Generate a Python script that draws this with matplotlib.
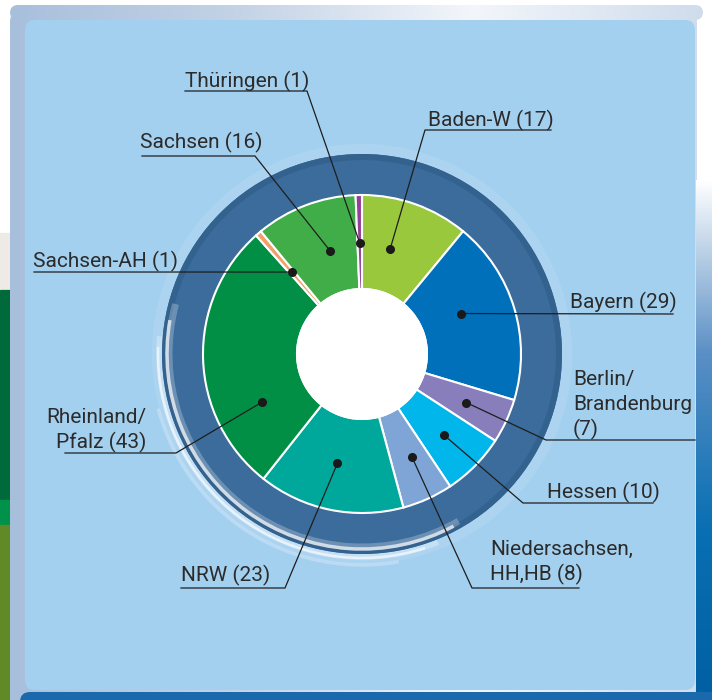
import numpy as np
import matplotlib.pyplot as plt
from matplotlib.patches import Circle, Wedge, FancyBboxPatch, Rectangle, Arc
from matplotlib.colors import LinearSegmentedColormap

W, H = 712, 700

# data
labels = ["Baden-W (17)", "Bayern (29)", "Berlin/\nBrandenburg\n(7)", "Hessen (10)",
          "Niedersachsen,\nHH,HB (8)", "NRW (23)", "Rheinland/\nPfalz (43)",
          "Sachsen-AH (1)", "Sachsen (16)", "Thüringen (1)"]
values = [17, 29, 7, 10, 8, 23, 43, 1, 16, 1]
colors = ["#9ac83c", "#0070ba", "#877ebb", "#00b6eb", "#7ea5d5",
          "#00a89c", "#008f45", "#f29f6c", "#41ad49", "#943f97"]

# label placement in picture pixels (y from top):
# text x, first baseline, alignment, leader points after the dot, dot spot in wedge, dot radius
label_layout = [
    (428, 126, 'left', [(425, 130), (551, 130)], 0.38, 109),
    (570, 308, 'left', [(673, 314)], 0.42, 107),
    (573, 385, 'left', [(546, 440), (695, 440)], 0.5, 115),
    (547, 498, 'left', [(523, 503), (653, 503)], 0.5, 115),
    (490, 555, 'left', [(472, 588), (579, 588)], 0.42, 114),
    (181, 581, 'left', [(285, 588), (181, 588)], 0.52, 112),
    (146, 423, 'right', [(176, 453), (65, 453)], 0.26, 111),
    (33, 267, 'left', [(34, 272)], 0.5, 108),
    (140, 148, 'left', [(255, 156), (142, 156)], 0.6, 108),
    (185, 87, 'left', [(307, 91), (185, 91)], 0.5, 111),
]


def Y(y):
    return H - y


plt.rcParams['font.family'] = ['Roboto', 'DejaVu Sans']

fig = plt.figure(figsize=(W / 100, H / 100), dpi=100)
fig.patch.set_facecolor('white')
ax = fig.add_axes([0, 0, 1, 1])

# --- brochure background ---
ax.add_patch(Rectangle((0, Y(288)), 10, 55, color='#eeebe6', zorder=0))
ax.add_patch(Rectangle((0, Y(500)), 10, 210, color='#006a3a', zorder=0))
ax.add_patch(Rectangle((0, Y(525)), 10, 25, color='#00924a', zorder=0))
ax.add_patch(Rectangle((0, 0), 10, Y(525), color='#5f8a25', zorder=0))

frame_cmap = LinearSegmentedColormap.from_list('frame', ['#a8bfdc', '#c4d3e6', '#f3f6fb', '#cfdcec'])
# top bar of the frame, a little wider than the rest
top_bar = FancyBboxPatch((10, Y(20)), 693, 15, boxstyle='round,pad=0,rounding_size=8',
                         fc='none', ec='none', zorder=1)
frame = FancyBboxPatch((10, -20), 687, H - 10 + 20, boxstyle='round,pad=0,rounding_size=12',
                       fc='none', ec='none', zorder=1)
for clip in (top_bar, frame):
    ax.add_patch(clip)
    im = ax.imshow(np.linspace(0, 1, 256)[None, :], cmap=frame_cmap, extent=(10, 705, -20, H - 5),
                   aspect='auto', zorder=1)
    im.set_clip_path(clip)

side_cmap = LinearSegmentedColormap.from_list('side', ['#ffffff', '#5a8fc5', '#0a70b3', '#005fa2'])
ax.imshow(np.linspace(0, 1, 256)[:, None], cmap=side_cmap, extent=(696, 712, 0, Y(180)),
          aspect='auto', zorder=1)

ax.add_patch(FancyBboxPatch((25, Y(690)), 670, 670, boxstyle='round,pad=0,rounding_size=10',
                            fc='#a4d0ef', ec='none', zorder=2))
ax.add_patch(FancyBboxPatch((20, -10), 700, Y(692) + 10, boxstyle='round,pad=0,rounding_size=10',
                            fc='#1a69ac', ec='none', zorder=2))

# --- ring behind the donut ---
cx, cy = 362, Y(354)
ax.add_patch(Wedge((cx, cy), 210, 0, 360, width=12, fc='#bfe0f6', ec='none', alpha=0.3, zorder=3))
ax.add_patch(Wedge((cx, cy), 200, 0, 360, width=42, fc='#3b6c9b', ec='none', zorder=3))
ax.add_patch(Wedge((cx, cy), 200, 0, 360, width=6, fc='#33628f', ec='none', zorder=3))
# glossy highlights on the lower left
for r, lw, a, t1, t2 in [(193, 5, 0.25, 165, 300), (195, 2.5, 0.7, 170, 298),
                         (203, 4, 0.3, 175, 292), (204, 1.8, 0.6, 178, 288),
                         (211, 2.5, 0.25, 195, 280)]:
    ax.add_patch(Arc((cx, cy), 2 * r, 2 * r, theta1=t1, theta2=t2,
                     color='white', lw=lw, alpha=a, zorder=3))

# --- donut ---
wedges, _ = ax.pie(values, colors=colors, startangle=90, counterclock=False,
                   center=(cx, cy), radius=159,
                   wedgeprops=dict(width=94, edgecolor='white', linewidth=1.5))
for w in wedges:
    w.set_zorder(4)
ax.add_patch(Circle((cx, cy), 66, fc='white', ec='none', zorder=5))

# --- labels with leader lines ---
for w, text, (tx, ty, ha, pts, frac, rad) in zip(wedges, labels, label_layout):
    ang = np.deg2rad(w.theta2 - frac * (w.theta2 - w.theta1))
    dx, dy = cx + rad * np.cos(ang), cy + rad * np.sin(ang)
    xs = [dx] + [p[0] for p in pts]
    ys = [dy] + [Y(p[1]) for p in pts]
    ax.plot(xs, ys, color='#1e1e1e', lw=0.9, zorder=6)
    ax.plot(dx, dy, 'o', ms=5.5, color='#1a1a1a', zorder=7)
    for i, line in enumerate(text.split('\n')):
        ax.text(tx, Y(ty + 25 * i), line, ha=ha, va='baseline', fontsize=15,
                color='#2b2b2b', zorder=8)

ax.set_xlim(0, W)
ax.set_ylim(0, H)
ax.set_aspect('auto')
ax.axis('off')

fig.savefig('out.png', dpi=100, facecolor='white')
